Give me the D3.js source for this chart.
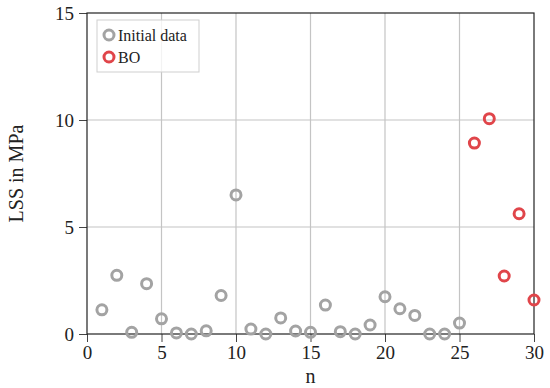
<!DOCTYPE html>
<html>
<head>
<meta charset="utf-8">
<script src="https://cdn.jsdelivr.net/npm/d3@7"></script>
<style>
  body { margin: 0; background: #fff; }
  svg text { font-family: "Liberation Serif", "DejaVu Serif", serif; fill: #222; }
</style>
</head>
<body>
<div id="chart"></div>
<script>
var width = 550;
var height = 388;

// initial data points (n = 1..25)
var initN = [1, 2, 3, 4, 5, 6, 7, 8, 9, 10, 11, 12, 13, 14, 15, 16, 17, 18, 19, 20, 21, 22, 23, 24, 25];
var initLSS = [1.13, 2.74, 0.08, 2.35, 0.71, 0.05, 0.0, 0.15, 1.8, 6.5, 0.23, 0.0, 0.75, 0.14, 0.08,
    1.35, 0.11, 0.0, 0.42, 1.74, 1.18, 0.87, 0.0, 0.0, 0.51];

// bayesian optimisation points
var boN = [26, 27, 28, 29, 30];
var boLSS = [8.92, 10.06, 2.71, 5.62, 1.59];

var xTicks = [0, 5, 10, 15, 20, 25, 30];
var yTicks = [0, 5, 10, 15];

var legendLabels = ["Initial data", "BO"];
var colors = ["#a3a3a3", "#e0454a"];

var margin = {left: 87, right: 16, top: 13, bottom: 54};

var svg = d3.select("#chart").append("svg")
    .attr("width", width)
    .attr("height", height);

var x = d3.scaleLinear().domain([0, 30]).range([margin.left, width - margin.right]);
var y = d3.scaleLinear().domain([0, 15]).range([height - margin.bottom, margin.top]);

// grid
svg.append("g").selectAll("line").data(xTicks.slice(1, -1)).enter().append("line")
    .attr("x1", d => x(d)).attr("x2", d => x(d))
    .attr("y1", y(0)).attr("y2", y(15))
    .attr("stroke", "#c4c4c4").attr("stroke-width", 1.2);
svg.append("g").selectAll("line").data(yTicks.slice(1, -1)).enter().append("line")
    .attr("y1", d => y(d)).attr("y2", d => y(d))
    .attr("x1", x(0)).attr("x2", x(30))
    .attr("stroke", "#c4c4c4").attr("stroke-width", 1.2);

// axes
var xAxis = svg.append("g")
    .attr("transform", "translate(0," + y(0) + ")")
    .call(d3.axisBottom(x).tickValues(xTicks).tickSize(8).tickPadding(4));
var yAxis = svg.append("g")
    .attr("transform", "translate(" + x(0) + ",0)")
    .call(d3.axisLeft(y).tickValues(yTicks).tickSize(8).tickPadding(5));

[xAxis, yAxis].forEach(function (g) {
    g.select(".domain").remove();
    g.selectAll("line").attr("stroke", "#444").attr("stroke-width", 1);
    g.selectAll("text").style("font-family", "Liberation Serif, DejaVu Serif, serif")
        .style("font-size", "19px").attr("fill", "#222");
});

// frame
svg.append("rect")
    .attr("x", x(0)).attr("y", y(15))
    .attr("width", x(30) - x(0)).attr("height", y(0) - y(15))
    .attr("fill", "none").attr("stroke", "#222").attr("stroke-width", 1.2);

// points
function drawPoints(ns, vals, color) {
    svg.append("g").selectAll("circle").data(ns).enter().append("circle")
        .attr("cx", (d, i) => x(d))
        .attr("cy", (d, i) => y(vals[i]))
        .attr("r", 5)
        .attr("fill", "none")
        .attr("stroke", color)
        .attr("stroke-width", 3);
}
drawPoints(initN, initLSS, colors[0]);
drawPoints(boN, boLSS, colors[1]);

// legend
var legend = svg.append("g");
legend.append("rect")
    .attr("x", 97).attr("y", 20).attr("width", 102).attr("height", 52)
    .attr("fill", "rgba(255,255,255,0.8)").attr("stroke", "#cfcfcf").attr("stroke-width", 1);
legendLabels.forEach(function (lab, i) {
    legend.append("circle")
        .attr("cx", 109).attr("cy", 35 + i * 22).attr("r", 5)
        .attr("fill", "none").attr("stroke", colors[i]).attr("stroke-width", 3);
    legend.append("text")
        .attr("x", 118).attr("y", 35 + i * 22).attr("dy", "0.35em")
        .style("font-size", "16px")
        .text(lab);
});

// axis titles
svg.append("text")
    .attr("x", x(15)).attr("y", 383)
    .attr("text-anchor", "middle")
    .style("font-size", "20px")
    .text("n");
svg.append("text")
    .attr("transform", "translate(23," + y(7.5) + ") rotate(-90)")
    .attr("text-anchor", "middle")
    .style("font-size", "20px")
    .text("LSS in MPa");
</script>
</body>
</html>
